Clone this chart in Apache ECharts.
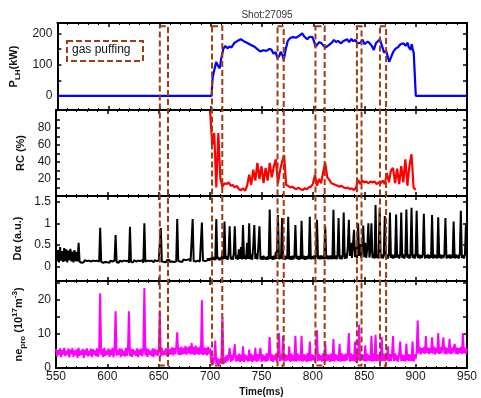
<!DOCTYPE html>
<html>
<head>
<meta charset="utf-8">
<script src="https://cdn.jsdelivr.net/npm/echarts@6/dist/echarts.min.js"></script>
<style>
html, body { margin: 0; padding: 0; background: #fff; }
#chart { width: 481px; height: 398px; }
</style>
</head>
<body>
<div id="chart"></div>
<script>
// fast signals on a 1 ms grid starting at 550 ms (20 ms per row)
const T0 = 550
const DT = 1

// D-alpha (a.u.)
const dalpha = [
  0.42, 0.12, 0.38, 0.10, 0.45, 0.14, 0.36, 0.11, 0.43, 0.13, 0.40, 0.10, 0.37, 0.15, 0.41, 0.12, 0.35, 0.10, 0.38, 0.13,
  0.34, 0.12, 0.55, 0.11, 0.14, 0.09, 0.13, 0.10, 0.15, 0.11, 0.13, 0.09, 0.14, 0.11, 0.12, 0.08, 0.14, 0.10, 0.13, 0.11,
  0.14, 0.10, 0.12, 0.90, 0.11, 0.14, 0.09, 0.13, 0.11, 0.15, 0.10, 0.13, 0.09, 0.14, 0.11, 0.12, 0.09, 0.14, 0.73, 0.10,
  0.13, 0.09, 0.14, 0.11, 0.12, 0.08, 0.14, 0.10, 0.13, 0.11, 0.14, 0.09, 0.92, 0.11, 0.13, 0.10, 0.15, 0.11, 0.12, 0.09,
  0.14, 0.10, 0.13, 0.11, 0.15, 0.09, 1.00, 0.12, 0.10, 0.14, 0.11, 0.13, 0.09, 0.14, 0.12, 0.10, 0.15, 0.11, 0.13, 0.10,
  0.14, 0.11, 0.89, 0.12, 0.15, 0.11, 0.14, 0.10, 0.15, 0.12, 0.16, 0.11, 0.14, 0.12, 0.16, 0.11, 0.15, 0.12, 1.10, 0.13,
  0.16, 0.12, 0.15, 0.11, 0.17, 0.13, 0.15, 0.12, 0.16, 0.13, 0.17, 0.12, 0.15, 1.10, 0.13, 0.17, 0.12, 0.16, 0.14, 0.17,
  0.12, 0.16, 1.02, 0.14, 0.18, 0.13, 0.17, 0.14, 0.19, 0.14, 0.20, 0.15, 0.26, 0.16, 0.21, 0.15, 1.10, 0.17, 0.22, 0.15,
  0.21, 0.16, 0.35, 0.17, 1.04, 0.18, 0.24, 0.16, 0.30, 0.93, 0.17, 0.23, 0.16, 0.30, 0.93, 0.18, 0.26, 0.16, 0.40, 0.18,
  0.45, 0.17, 0.96, 0.18, 0.26, 0.17, 0.55, 0.18, 1.00, 0.17, 0.28, 0.16, 0.50, 0.96, 0.18, 0.30, 0.17, 0.50, 0.93, 0.17,
  0.24, 0.16, 0.25, 0.17, 0.22, 0.16, 0.24, 0.17, 1.32, 0.18, 0.24, 0.16, 0.25, 0.17, 0.35, 0.18, 1.19, 0.17, 0.26, 0.18,
  1.12, 0.17, 0.24, 0.16, 0.25, 0.18, 1.15, 0.17, 0.24, 0.16, 0.25, 0.17, 0.23, 0.96, 0.18, 0.25, 0.16, 0.24, 0.17, 1.06,
  0.18, 0.25, 0.16, 0.24, 0.17, 0.25, 0.18, 1.15, 0.17, 0.24, 0.18, 0.26, 0.17, 0.24, 1.08, 0.18, 0.25, 0.17, 0.26, 0.18,
  0.25, 0.17, 0.93, 0.18, 0.26, 0.17, 0.25, 0.18, 0.26, 0.17, 1.31, 0.18, 0.26, 0.17, 0.25, 1.12, 0.18, 0.26, 0.17, 0.25,
  1.25, 0.18, 0.30, 0.19, 0.45, 1.08, 0.25, 0.55, 0.20, 0.50, 0.85, 0.22, 0.45, 0.20, 1.00, 0.25, 0.52, 0.21, 0.40, 0.95,
  0.22, 0.55, 0.20, 0.45, 1.00, 0.21, 0.35, 1.00, 0.20, 0.30, 0.19, 1.42, 0.20, 0.28, 0.19, 1.36, 0.20, 0.28, 0.19, 0.27,
  1.17, 0.20, 0.28, 0.19, 0.27, 1.25, 0.20, 0.28, 0.19, 0.27, 0.20, 1.20, 0.21, 0.28, 0.19, 0.27, 1.25, 0.20, 0.28, 0.19,
  0.27, 1.32, 0.20, 0.28, 0.19, 0.27, 1.36, 0.20, 0.28, 0.19, 0.27, 1.29, 0.20, 0.28, 0.19, 0.27, 0.20, 0.28, 1.22, 0.19,
  0.27, 0.20, 0.28, 0.19, 0.27, 0.20, 1.19, 0.19, 0.28, 0.20, 0.27, 0.19, 1.14, 0.20, 0.28, 0.19, 0.27, 0.20, 0.28, 1.12,
  0.19, 0.27, 0.20, 0.28, 0.19, 0.27, 0.20, 1.04, 0.19, 0.28, 0.20, 0.27, 0.19, 0.28, 1.29, 0.20, 0.27, 0.19, 0.28, 1.00,
  0.22
]

// ne_pro (1e17 m^-3)
const nePro = [
  5.6, 3.4, 5.1, 3.9, 5.8, 3.2, 5.3, 4.0, 5.9, 3.5, 5.0, 3.8, 5.7, 3.1, 5.4, 4.1, 5.8, 3.3, 5.2, 3.7,
  5.5, 3.0, 5.9, 3.6, 5.1, 3.9, 5.6, 2.9, 5.3, 3.8, 5.8, 3.4, 5.0, 3.7, 5.7, 3.2, 5.5, 3.9, 5.2, 3.5,
  5.8, 3.3, 5.4, 22.0, 3.8, 5.6, 3.2, 5.9, 3.6, 5.1, 3.9, 5.7, 3.3, 5.4, 3.8, 5.9, 3.1, 5.5, 16.7, 3.6,
  5.3, 3.9, 5.8, 3.2, 5.6, 3.7, 5.0, 3.4, 5.9, 3.6, 5.2, 16.7, 3.5, 5.7, 3.3, 5.5, 3.9, 5.1, 3.6, 5.8,
  3.2, 5.4, 3.8, 5.7, 3.4, 5.2, 23.5, 3.7, 5.9, 3.3, 5.5, 3.9, 5.0, 3.5, 5.8, 3.2, 5.6, 3.8, 5.3, 3.6,
  5.7, 16.7, 3.4, 5.9, 3.7, 5.2, 3.9, 5.8, 3.5, 6.0, 3.8, 5.6, 4.0, 6.1, 3.7, 5.9, 4.1, 6.2, 10.5, 3.9,
  6.0, 3.8, 6.3, 4.0, 5.9, 4.2, 6.5, 3.9, 6.1, 4.3, 6.4, 4.0, 7.3, 4.1, 6.2, 3.8, 6.6, 4.2, 6.0, 3.9,
  6.3, 4.1, 19.9, 3.8, 6.1, 4.0, 5.9, 3.7, 6.2, 4.2, 5.8, 1.5, 3.2, 1.0, 2.8, 8.1, 1.2, 3.0, 0.9, 2.6,
  1.3, 3.4, 14.9, 1.1, 3.2, 1.6, 3.8, 2.0, 3.5, 5.9, 1.8, 3.9, 2.2, 4.1, 7.0, 1.9, 3.7, 2.1, 4.2, 1.8,
  3.9, 2.0, 6.4, 1.8, 4.0, 2.3, 3.6, 1.9, 5.4, 2.1, 4.2, 1.7, 3.8, 2.2, 5.9, 1.9, 4.1, 2.0, 3.7, 5.9,
  1.8, 4.0, 2.2, 3.6, 1.9, 4.3, 2.0, 3.8, 9.1, 2.1, 4.1, 1.8, 3.7, 2.3, 4.2, 1.9, 3.9, 10.3, 2.0, 4.0,
  2.2, 9.4, 1.9, 4.1, 2.0, 3.8, 2.3, 6.4, 1.8, 4.2, 2.1, 3.7, 2.0, 9.5, 1.9, 4.3, 2.2, 3.8, 2.0, 9.5,
  1.9, 4.1, 2.2, 3.9, 1.8, 4.4, 2.1, 7.8, 2.0, 4.0, 2.3, 3.8, 1.9, 4.2, 11.1, 2.0, 4.1, 2.2, 3.7, 1.9,
  4.3, 2.1, 7.8, 2.0, 4.0, 2.2, 3.9, 1.8, 4.2, 2.1, 8.5, 1.9, 4.1, 2.3, 3.8, 2.0, 7.1, 1.9, 4.4, 2.1,
  3.9, 2.0, 4.2, 2.2, 3.8, 10.3, 1.9, 4.3, 2.1, 4.0, 2.0, 7.8, 1.8, 4.5, 2.2, 12.7, 2.0, 4.1, 2.3, 3.9,
  2.0, 6.7, 1.9, 4.2, 2.2, 3.8, 2.0, 9.5, 1.9, 4.3, 2.1, 9.8, 2.0, 4.0, 2.2, 3.9, 1.9, 9.1, 2.1, 4.2,
  2.0, 3.8, 2.2, 6.4, 1.9, 4.1, 2.1, 3.9, 9.4, 2.0, 4.3, 2.2, 3.7, 1.9, 4.2, 7.8, 2.0, 4.0, 2.1, 3.8,
  1.9, 7.1, 2.2, 4.1, 2.0, 3.9, 2.1, 7.8, 1.9, 4.0, 2.6, 5.0, 14.0, 4.3, 6.2, 4.0, 5.8, 4.4, 6.1, 4.2,
  9.4, 4.5, 6.0, 4.1, 5.9, 4.4, 9.0, 4.2, 6.3, 4.0, 5.8, 4.5, 10.3, 4.1, 6.1, 4.3, 5.9, 9.0, 4.2, 6.2,
  4.0, 5.8, 4.4, 8.6, 4.1, 6.0, 4.3, 5.9, 7.1, 4.2, 6.1, 4.0, 5.8, 4.4, 6.2, 4.1, 10.3, 4.3, 5.9, 4.2,
  5.8
]

// RC (%), 700 - 900 ms on a 2 ms grid
const RC0 = 700
const RC_DT = 2
const rc = [
  100, 60, 74, 10, 74, 20, 11, 15, 14, 16,
  12, 13, 10, 12, 8, 7, 9, 6, 12, 25,
  13, 31, 18, 39, 20, 35, 15, 33, 18, 39,
  22, 35, 43, 15, 30, 40, 48, 13, 12, 10,
  11, 9, 8, 10, 8, 7, 9, 8, 10, 11,
  14, 25, 12, 20, 15, 28, 39, 22, 19, 15,
  14, 13, 12, 11, 12, 10, 9, 10, 8, 9,
  7, 10, 19, 14, 18, 16, 17, 15, 17, 16,
  17, 14, 16, 15, 18, 14, 27, 16, 30, 33,
  15, 32, 14, 35, 16, 43, 12, 36, 49, 10,
  7
]

// P_LH (kW), breakpoints
const plhTime = [
  550, 700.5, 701.5, 703, 705, 707, 708.5, 710, 712, 714, 716, 718, 720, 723, 726, 729,
  732, 735, 739, 742, 745, 748, 751, 754, 757, 759, 761, 763, 765, 767, 768, 770, 771,
  773, 775, 777, 780, 783, 786, 789, 791, 794, 796, 799, 801, 802, 804, 806, 808, 810,
  812, 813.5, 816, 818, 820, 822, 824, 827, 829, 831, 833, 835, 837, 839, 841, 843, 846,
  848, 850, 853, 855, 857, 859, 861, 863, 865, 867, 869, 871, 874, 876, 878, 880, 883,
  885, 888, 890, 892, 893, 895, 896, 897, 898, 900, 950
]
const plhVal = [
  0, 0, 55, 80, 108, 95, 88, 120, 150, 160, 152, 158, 155, 170, 176, 181,
  175, 170, 163, 158, 150, 142, 146, 144, 150, 148, 135, 140, 120, 130, 141, 128, 115,
  150, 176, 184, 188, 186, 192, 200, 190, 181, 188, 189, 170, 157, 165, 172, 168, 160,
  155, 149, 165, 170, 179, 172, 176, 168, 175, 178, 181, 172, 182, 175, 179, 168, 170,
  180, 165, 174, 168, 160, 147, 168, 175, 181, 160, 138, 145, 109, 125, 141, 150, 157,
  165, 168, 160, 170, 157, 147, 165, 150, 136, 0, 0
]

// gas puffing windows (ms)
const puffWindows = [[650, 658], [701, 711], [765, 771], [802, 811], [842.5, 847], [865, 871]]

const FONT = '"Liberation Sans", Arial, sans-serif'
const PUFF_COLOR = '#9c3d12'

const grids = [
  { top: 23, height: 87 },
  { top: 110, height: 86 },
  { top: 196, height: 85 },
  { top: 281, height: 87 }
]

const yCfg = [
  { min: -45, max: 233, labels: [0, 100, 200], ticks: [0, 50, 100, 150, 200], gap: 27,
    name: '{b|P}{s|LH}{b|(kW)}' },
  { min: 0, max: 101, labels: [20, 40, 60, 80], ticks: [10, 20, 30, 40, 50, 60, 70, 80, 90], gap: 24,
    name: '{b|RC (%)}' },
  { min: -0.33, max: 1.63, labels: [0, 0.5, 1, 1.5], ticks: [0, 0.5, 1, 1.5], gap: 24,
    name: '{b|D\u03b1 (a.u.)}' },
  { min: 0, max: 25.6, labels: [0, 10, 20], ticks: [0, 5, 10, 15, 20, 25], gap: 24,
    name: '{b|ne}{s|pro}{b| (10}{p|17}{b|m}{p|-3}{b|)}' }
]

const nameRich = {
  b: { fontSize: 11, fontWeight: 'bold', fontFamily: FONT, color: '#111', lineHeight: 16 },
  s: { fontSize: 8, fontWeight: 'bold', fontFamily: FONT, color: '#111', lineHeight: 8, verticalAlign: 'bottom' },
  p: { fontSize: 8, fontWeight: 'bold', fontFamily: FONT, color: '#111', lineHeight: 8, verticalAlign: 'top' }
}

const axisLine = { show: true, onZero: false, lineStyle: { color: '#000', width: 2 } }

function xAxisFor (gi, position, withLabels) {
  return {
    type: 'value',
    gridIndex: gi,
    position: position,
    min: 550,
    max: 950,
    interval: 50,
    axisLine: axisLine,
    axisTick: { show: true, inside: true, length: 4, lineStyle: { color: '#000', width: 1.5 } },
    minorTick: { show: true, splitNumber: 5, length: 2, lineStyle: { color: '#000', width: 1 } },
    splitLine: { show: false },
    axisLabel: {
      show: withLabels,
      margin: 3,
      fontSize: 12,
      fontFamily: FONT,
      color: '#1a1a1a'
    },
    name: withLabels ? 'Time(ms)' : '',
    nameLocation: 'middle',
    nameGap: 19,
    nameTextStyle: { fontSize: 10, fontWeight: 'bold', fontFamily: FONT, color: '#111' }
  }
}

function yAxisFor (gi, position) {
  const c = yCfg[gi]
  const left = position === 'left'
  return {
    type: 'value',
    gridIndex: gi,
    position: position,
    min: c.min,
    max: c.max,
    axisLine: axisLine,
    axisTick: { show: true, inside: true, length: 4, customValues: c.ticks, lineStyle: { color: '#000', width: 1.5 } },
    axisLabel: {
      show: left,
      customValues: c.labels,
      margin: 5,
      fontSize: 12,
      fontFamily: FONT,
      color: '#1a1a1a'
    },
    splitLine: { show: false },
    name: left ? c.name : '',
    nameLocation: 'middle',
    nameRotate: 90,
    nameGap: c.gap,
    nameTextStyle: { rich: nameRich }
  }
}

const xAxes = []
const yAxes = []
grids.forEach((g, i) => {
  xAxes.push(xAxisFor(i, 'bottom', i === grids.length - 1))
  xAxes.push(xAxisFor(i, 'top', false))
  yAxes.push(yAxisFor(i, 'left'))
  yAxes.push(yAxisFor(i, 'right'))
})

function lineSeries (gi, data, color, width) {
  return {
    type: 'line',
    xAxisIndex: gi * 2,
    yAxisIndex: gi * 2,
    data: data,
    symbol: 'none',
    lineStyle: { color: color, width: width },
    clip: true,
    animation: false
  }
}

const plhData = plhTime.map((t, i) => [t, plhVal[i]])
const rcData = rc.map((v, i) => [RC0 + i * RC_DT, v])
const daData = dalpha.map((v, i) => [T0 + i * DT, v])
const neData = nePro.map((v, i) => [T0 + i * DT, v])

const chart = echarts.init(document.getElementById('chart'), null, { renderer: 'canvas' })

chart.setOption({
  animation: false,
  backgroundColor: '#fff',
  title: {
    text: 'Shot:27095',
    left: 262,
    top: 5,
    textAlign: 'center',
    textStyle: { fontSize: 10, fontWeight: 'normal', fontFamily: FONT, color: '#333' }
  },
  grid: grids.map(g => ({ left: 56, right: 14, top: g.top, height: g.height })),
  xAxis: xAxes,
  yAxis: yAxes,
  series: [
    lineSeries(0, plhData, '#0000ff', 2.2),
    lineSeries(1, rcData, '#ff0000', 2.2),
    lineSeries(2, daData, '#000000', 2),
    lineSeries(3, neData, '#ff00ff', 2)
  ]
})

// dashed gas-puffing boxes spanning all four panels
const yTop = chart.convertToPixel({ yAxisIndex: 0 }, 223)
const yBot = chart.convertToPixel({ yAxisIndex: 6 }, 0.7)
const boxes = puffWindows.map(w => {
  const x1 = chart.convertToPixel({ xAxisIndex: 0 }, w[0])
  const x2 = chart.convertToPixel({ xAxisIndex: 0 }, w[1])
  return {
    type: 'rect',
    z: 100,
    shape: { x: x1, y: yTop, width: x2 - x1, height: yBot - yTop },
    style: { fill: 'none', stroke: PUFF_COLOR, lineWidth: 2, lineDash: [6, 3] }
  }
})

chart.setOption({
  graphic: boxes.concat([
    {
      type: 'rect',
      z: 100,
      shape: { x: 67, y: 41, width: 76, height: 20 },
      style: { fill: '#fff', stroke: PUFF_COLOR, lineWidth: 2, lineDash: [6, 3] }
    },
    {
      type: 'text',
      z: 101,
      left: 72,
      top: 44,
      style: { text: 'gas puffing', fontSize: 12, fontFamily: FONT, fill: '#111' }
    }
  ])
})
</script>
</body>
</html>
